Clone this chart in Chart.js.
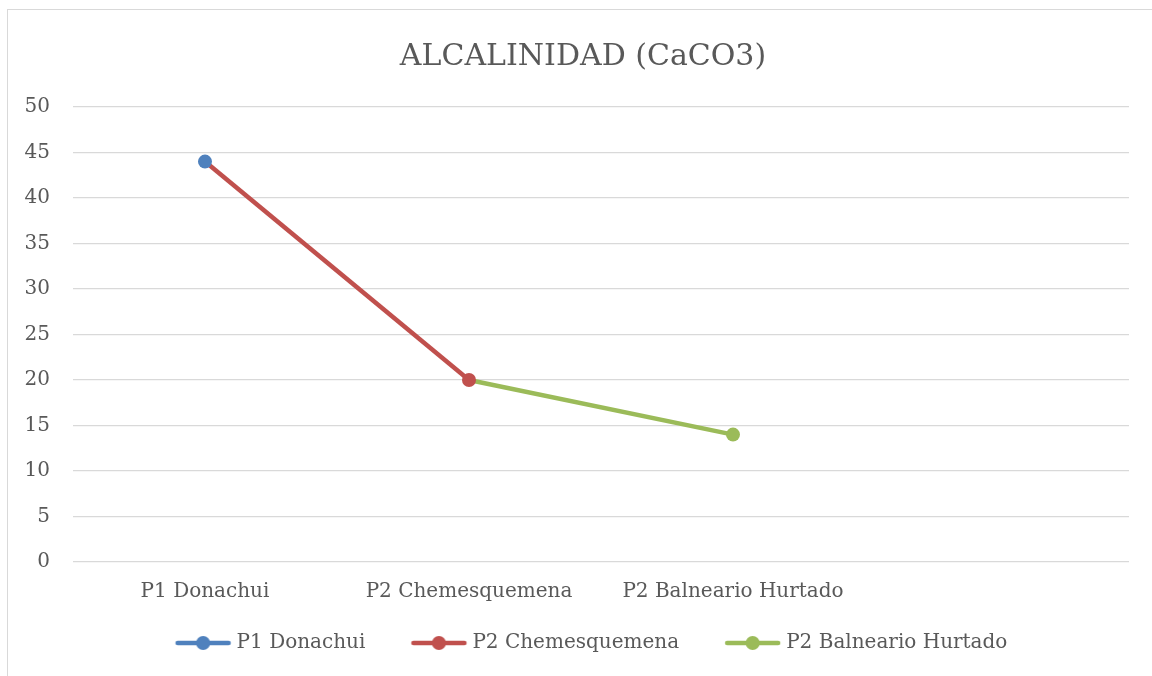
<!DOCTYPE html>
<html>
<head>
<meta charset="utf-8">
<script src="https://cdn.jsdelivr.net/npm/chart.js@4/dist/chart.umd.min.js"></script>
<style>
  html, body { margin: 0; padding: 0; background: #fff; overflow: hidden; }
  #wrap { position: absolute; left: 7px; top: 9px; width: 1152px; height: 667px; }
</style>
</head>
<body>
<div id="wrap"><canvas id="chart"></canvas></div>
<script>
const categories = ['P1 Donachui', 'P2 Chemesquemena', 'P2 Balneario Hurtado', ''];
const alcalinidad = [44, 20, 14, null];
const pointColors = ['#4F81BD', '#C0504D', '#9BBB59'];
const yTicks = [0, 5, 10, 15, 20, 25, 30, 35, 40, 45, 50];

const FONT = '"DejaVu Serif", serif';
const TEXT = '#595959';

// legend swatch: line with a dot in the middle, shifted right inside the box
function swatch(color) {
  const c = document.createElement('canvas');
  c.width = 80; c.height = 16;
  const g = c.getContext('2d');
  g.strokeStyle = color; g.lineWidth = 4.5; g.lineCap = 'round';
  g.beginPath(); g.moveTo(25, 8); g.lineTo(76, 8); g.stroke();
  g.fillStyle = color;
  g.beginPath(); g.arc(50.5, 8, 7, 0, Math.PI * 2); g.fill();
  return c;
}

const frame = {
  id: 'frame',
  beforeDraw(chart) {
    const ctx = chart.ctx;
    ctx.save();
    ctx.strokeStyle = '#D9D9D9';
    ctx.lineWidth = 1;
    ctx.strokeRect(0.5, 0.5, chart.width + 20, chart.height + 20);
    ctx.restore();
  }
};

new Chart(document.getElementById('chart'), {
  type: 'line',
  data: {
    labels: categories,
    datasets: [{
      label: 'ALCALINIDAD (CaCO3)',
      data: alcalinidad,
      borderWidth: 4.5,
      pointRadius: 7,
      pointHoverRadius: 7,
      pointBorderWidth: 0,
      pointBackgroundColor: pointColors,
      pointBorderColor: pointColors,
      segment: { borderColor: ctx => pointColors[ctx.p1DataIndex] },
      tension: 0,
    }],
  },
  options: {
    responsive: true,
    maintainAspectRatio: false,
    animation: false,
    layout: { padding: { left: 0, right: 0, top: 0, bottom: 13 } },
    scales: {
      x: {
        offset: true,
        grid: { display: false, drawTicks: false },
        border: { display: false },
        ticks: { color: TEXT, font: { family: FONT, size: 20 }, padding: 18, maxRotation: 0 },
        afterFit: s => { s.height = 42; },
      },
      y: {
        min: 0, max: 50,
        afterBuildTicks: s => { s.ticks = yTicks.map(v => ({ value: v })); },
        grid: { color: '#D9D9D9', lineWidth: 1.3, drawTicks: false },
        border: { display: false },
        ticks: { color: TEXT, font: { family: FONT, size: 20 }, padding: 23 },
        afterFit: s => { s.width = 66; },
      },
      yr: {
        position: 'right',
        grid: { display: false, drawTicks: false },
        border: { display: false },
        ticks: { display: false },
        afterFit: s => { s.width = 30; },
      },
    },
    plugins: {
      title: {
        display: true,
        text: 'ALCALINIDAD (CaCO3)',
        color: TEXT,
        font: { family: FONT, size: 30, weight: 'normal' },
        padding: { top: 30, bottom: 32 },
      },
      legend: {
        position: 'bottom',
        labels: {
          color: TEXT,
          font: { family: FONT, size: 20 },
          usePointStyle: true,
          pointStyleWidth: 68,
          padding: 29,
          generateLabels: () => categories.slice(0, 3).map((name, i) => ({
            text: name,
            pointStyle: swatch(pointColors[i]),
            fillStyle: pointColors[i],
            strokeStyle: pointColors[i],
            fontColor: TEXT,
            lineWidth: 0,
            hidden: false,
            datasetIndex: 0,
          })),
        },
      },
      tooltip: { enabled: false },
    },
  },
  plugins: [frame],
});
</script>
</body>
</html>
